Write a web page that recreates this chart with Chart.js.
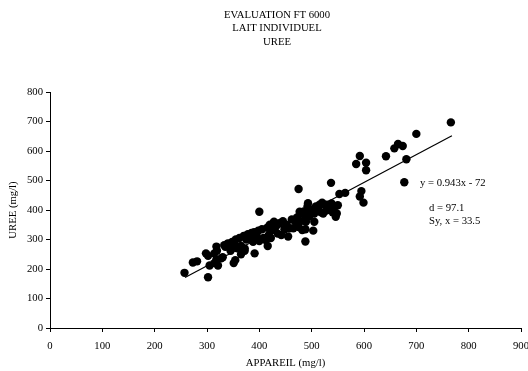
<!DOCTYPE html>
<html>
<head>
<meta charset="utf-8">
<script src="https://cdn.jsdelivr.net/npm/chart.js@4.4.0/dist/chart.umd.min.js"></script>
<style>
html,body{margin:0;padding:0;background:#fff;}
#wrap{width:528px;height:371px;position:relative;}
</style>
</head>
<body>
<div id="wrap"><canvas id="c" width="528" height="371"></canvas></div>
<script>
// ---- Data ----
const titleLines = ['EVALUATION FT 6000', 'LAIT INDIVIDUEL', 'UREE'];
const xAxisTitle = 'APPAREIL (mg/l)';
const yAxisTitle = 'UREE (mg/l)';
const xTicks = [0, 100, 200, 300, 400, 500, 600, 700, 800, 900];
const yTicks = [0, 100, 200, 300, 400, 500, 600, 700, 800];

const appareil = [257,273,281,302,298,302,305,314,321,318,319,314,327,333,340,351,354,372,365,391,416,400,475,488,488,503,489,505,537,553,564,546,543,585,592,604,604,595,592,599,642,658,665,674,681,677,700,766,493,496,477,
318,330,335,342,345,348,352,355,358,362,365,370,372,375,378,382,385,388,390,395,398,400,405,408,412,415,418,420,422,425,428,432,435,438,442,445,448,452,455,458,462,465,470,472,475,478,480,482,485,488,492,495,498,502,505,508,512,515,518,522,525,528,532,535,538,540,548,550,520,530];
const uree = [187,222,226,172,253,245,212,220,212,276,262,253,236,281,287,220,230,262,250,253,278,394,471,293,335,330,360,360,492,454,458,377,408,556,583,560,535,464,446,425,582,609,624,617,572,494,658,697,423,400,394,
232,240,275,285,262,292,282,300,270,305,278,312,270,300,318,305,322,292,325,312,330,295,335,305,298,340,315,350,305,332,360,345,320,355,315,362,335,350,310,338,368,338,358,375,342,362,388,332,395,372,412,378,398,402,388,412,405,418,392,388,418,398,414,402,422,392,388,416,425,418];

const fitX = [258, 768];
const fitY = [171, 652];
const fitLabel = 'y = 0.943x - 72';
const statLabels = ['d = 97.1', 'Sy, x = 33.5'];

// ---- Build ----
const pts = appareil.map((x, i) => ({x: x, y: uree[i]}));
const fitPts = fitX.map((x, i) => ({x: x, y: fitY[i]}));
const FONT = "'Liberation Serif', 'Times New Roman', serif";
const FS = 10.7;

const textPlugin = {
  id: 'texts',
  afterDraw(chart) {
    const ctx = chart.ctx;
    ctx.save();
    ctx.fillStyle = '#000';
    ctx.font = FS + 'px ' + FONT;
    ctx.textAlign = 'center';
    ctx.textBaseline = 'middle';
    const tx = 277;
    titleLines.forEach((t, i) => ctx.fillText(t, tx, 15 + i * 13.5));
    ctx.textAlign = 'left';
    ctx.fillText(fitLabel, 420, 183);
    ctx.fillText(statLabels[0], 429, 208);
    ctx.fillText(statLabels[1], 429, 221);
    ctx.restore();
  }
};

new Chart(document.getElementById('c'), {
  data: {
    datasets: [
      {
        type: 'scatter',
        data: pts,
        backgroundColor: '#000',
        borderWidth: 0,
        pointRadius: 4.2,
        pointHoverRadius: 4.2
      },
      {
        type: 'line',
        data: fitPts,
        borderColor: '#000',
        borderWidth: 1.2,
        pointRadius: 0,
        fill: false,
        tension: 0
      }
    ]
  },
  options: {
    responsive: false,
    animation: false,
    events: [],
    layout: { padding: { left: 0, top: 92, right: 7, bottom: 0 } },
    plugins: { legend: { display: false }, tooltip: { enabled: false }, title: { display: false } },
    scales: {
      x: {
        type: 'linear',
        min: 0, max: 900,
        afterBuildTicks(s) { s.ticks = xTicks.map(v => ({value: v})); },
        afterFit(s) { s.height = 43; s.paddingRight = 0; s.paddingLeft = 0; },
        ticks: { color: '#000', font: { family: FONT, size: FS }, padding: 8, maxRotation: 0, autoSkip: false },
        grid: { display: true, drawOnChartArea: false, drawTicks: true, tickLength: 4, color: '#000', lineWidth: 1 },
        border: { display: true, color: '#000', width: 1 },
        title: { display: true, text: xAxisTitle, color: '#000', font: { family: FONT, size: FS }, padding: { top: 4, bottom: 1 } }
      },
      y: {
        type: 'linear',
        min: 0, max: 800,
        afterBuildTicks(s) { s.ticks = yTicks.map(v => ({value: v})); },
        afterFit(s) { s.width = 50; s.paddingTop = 0; s.paddingBottom = 0; },
        ticks: { color: '#000', font: { family: FONT, size: FS }, padding: 3, autoSkip: false },
        grid: { display: true, drawOnChartArea: false, drawTicks: true, tickLength: 4, color: '#000', lineWidth: 1 },
        border: { display: true, color: '#000', width: 1 },
        title: { display: true, text: yAxisTitle, color: '#000', font: { family: FONT, size: FS }, padding: { top: 7, bottom: 0 } }
      }
    }
  },
  plugins: [textPlugin]
});
</script>
</body>
</html>
